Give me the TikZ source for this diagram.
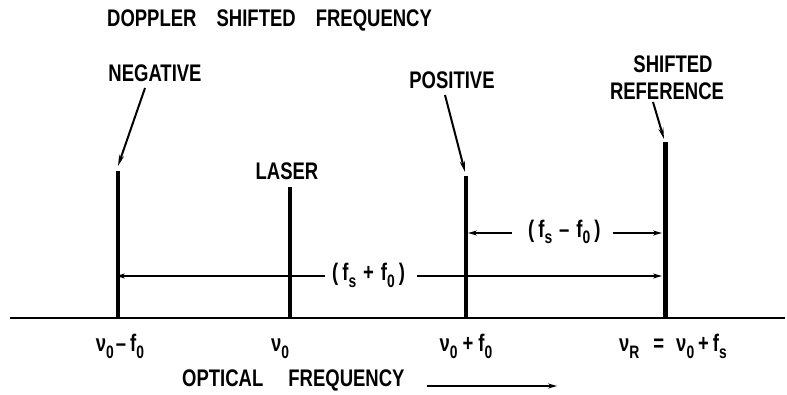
\documentclass[tikz,border=0pt]{standalone}
\usepackage{fontspec}
\setmainfont[FakeStretch=0.77]{Liberation Sans}
\usetikzlibrary{arrows.meta}
\newcommand\sbx[1]{\raisebox{-6pt}{\fontsize{18}{18}\selectfont #1}}
\begin{document}
\begin{tikzpicture}[x=1pt,y=-1pt,
  lbl/.style={font=\fontsize{24}{26}\selectfont\bfseries, inner sep=0pt},
  spec/.style={line width=4pt},
  axisline/.style={line width=2.5pt},
  ptr/.style={line width=2pt, -{Stealth[length=11pt,width=5pt]}},
  dim/.style={line width=2pt, -{Stealth[length=9pt,width=5pt]}},
]
\useasboundingbox (0,0) rectangle (787,395);

% axis
\coordinate (axL) at (10,318);
\coordinate (axR) at (785,318);
\draw[axisline] (axL) -- (axR);

% spectral lines
\coordinate (negT) at (118,171);  \coordinate (negB) at (118,318);
\coordinate (lasT) at (290,187);  \coordinate (lasB) at (290,318);
\coordinate (posT) at (466,176);  \coordinate (posB) at (466,318);
\coordinate (refT) at (665,142);  \coordinate (refB) at (665,318);
\draw[spec] (negT) -- (negB);
\draw[spec] (lasT) -- (lasB);
\draw[spec] (posT) -- (posB);
\draw[line width=5pt] (refT) -- (refB);

% titles and labels
\node[lbl, anchor=west] (title) at (107,20) {DOPPLER\hspace{15pt} SHIFTED\hspace{15pt} FREQUENCY};
\node[lbl] (neg) at (155,73) {NEGATIVE};
\node[lbl] (las) at (287,171) {LASER};
\node[lbl] (pos) at (452,80) {POSITIVE};
\node[lbl] (shf) at (673,64) {SHIFTED};
\node[lbl] (refl) at (667,91) {REFERENCE};

% pointers
\coordinate (negP) at (145,88);  \coordinate (negA) at (118,166);
\coordinate (posP) at (445,95);  \coordinate (posA) at (465,172);
\coordinate (refP) at (653,102); \coordinate (refA) at (664,139);
\draw[ptr] (negP) -- (negA);
\draw[ptr] (posP) -- (posA);
\draw[ptr] (refP) -- (refA);

% dimension (fs + f0)
\node[lbl, anchor=base west] (sum) at (332,281) {(\,f\sbx{s}\hspace{7pt}+\hspace{7pt}f\sbx{0}\,)};
\coordinate (sumL) at (116,276);
\coordinate (sumR) at (662,276);
\draw[dim] (sum.west |- sumL) ++(-7,0) -- (sumL);
\draw[dim] (sum.east |- sumR) ++(12,0) -- (sumR);

% dimension (fs - f0)
\node[lbl, anchor=base west] (dif) at (528,238) {(\,f\sbx{s}\hspace{7pt}–\hspace{7pt}f\sbx{0}\,)};
\coordinate (difL) at (468,233);
\coordinate (difR) at (662,233);
\draw[dim] (dif.west |- difL) ++(-16,0) -- (difL);
\draw[dim] (dif.east |- difR) ++(12,0) -- (difR);

% axis labels
\node[lbl, anchor=base] (b1) at (120,352) {ν\sbx{0}\hspace{2pt}–\hspace{4pt}f\sbx{0}};
\node[lbl, anchor=base] (b2) at (280,352) {ν\sbx{0}};
\node[lbl, anchor=base] (b3) at (466,352) {ν\sbx{0}\hspace{5pt}+\hspace{5pt}f\sbx{0}};
\node[lbl, anchor=base] (b4) at (673,352) {ν\sbx{R}\hspace{14pt}=\hspace{12pt}ν\sbx{0}\hspace{4pt}+\hspace{4pt}f\sbx{s}};

% optical frequency
\node[lbl, anchor=west] (opt) at (182,380) {OPTICAL\hspace{20pt} FREQUENCY};
\coordinate (optA) at (427,386);
\coordinate (optB) at (557,386);
\draw[dim] (optA) -- (optB);
\end{tikzpicture}
\end{document}
